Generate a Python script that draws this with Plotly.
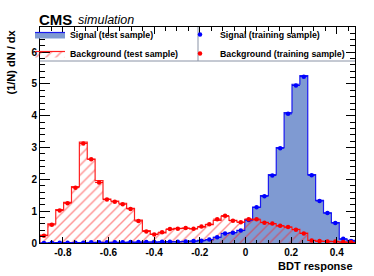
import numpy as np
import plotly.graph_objects as go

# ---- data (40 bins of BDT response) ----
x_min, x_max, n_bins = -0.90, 0.48, 40

sig_test = [0.00, 0.00, 0.01, 0.01, 0.01, 0.01, 0.01, 0.02, 0.02, 0.02,
            0.02, 0.02, 0.02, 0.03, 0.03, 0.03, 0.04, 0.04, 0.05, 0.06,
            0.08, 0.10, 0.18, 0.30, 0.33, 0.40, 0.73, 1.13, 1.49, 2.15,
            3.00, 4.10, 4.99, 5.26, 2.15, 1.34, 0.95, 0.64, 0.12, 0.08]
bkg_test = [0.25, 0.60, 1.05, 1.28, 1.77, 3.17, 2.64, 1.96, 1.38, 1.32,
            1.25, 1.09, 0.72, 0.39, 0.28, 0.32, 0.43, 0.46, 0.46, 0.44,
            0.50, 0.58, 0.71, 0.84, 0.71, 0.66, 0.74, 0.73, 0.65, 0.60,
            0.54, 0.50, 0.43, 0.31, 0.08, 0.05, 0.05, 0.04, 0.03, 0.01]
sig_train = [0.00, 0.01, 0.01, 0.01, 0.01, 0.01, 0.02, 0.02, 0.02, 0.02,
             0.02, 0.03, 0.03, 0.03, 0.03, 0.04, 0.04, 0.04, 0.05, 0.06,
             0.07, 0.11, 0.18, 0.30, 0.32, 0.39, 0.72, 1.12, 1.47, 2.12,
             2.98, 4.06, 4.95, 5.23, 2.13, 1.32, 0.94, 0.63, 0.13, 0.06]
bkg_train = [0.23, 0.57, 1.02, 1.25, 1.74, 3.13, 2.63, 1.90, 1.37, 1.30,
             1.22, 1.07, 0.69, 0.36, 0.27, 0.34, 0.44, 0.45, 0.47, 0.45,
             0.52, 0.59, 0.75, 0.86, 0.70, 0.65, 0.75, 0.75, 0.64, 0.61,
             0.54, 0.50, 0.42, 0.30, 0.08, 0.06, 0.05, 0.05, 0.03, 0.02]

x_tickvals = [-0.8, -0.6, -0.4, -0.2, 0.0, 0.2, 0.4]
x_ticktext = ["-0.8", "-0.6", "-0.4", "-0.2", "0", "0.2", "0.4"]
y_tickvals = [0, 1, 2, 3, 4, 5, 6]
y_ticktext = ["0", "1", "2", "3", "4", "5", "6"]

edges = np.linspace(x_min, x_max, n_bins + 1)
centers = 0.5 * (edges[:-1] + edges[1:])
bw = edges[1] - edges[0]

def step_xy(vals):
    xs = [edges[0]] + list(edges) + [edges[-1]]
    ys = [0.0] + list(vals) + [vals[-1], 0.0]
    return xs, ys

FONT = "Liberation Sans, Arial, Helvetica, sans-serif"

fig = go.Figure()

sx, sy = step_xy(sig_test)
fig.add_trace(go.Scatter(
    x=sx, y=sy, mode="lines", line=dict(color="#1b1bf0", width=1.2, shape="hv"),
    fill="tozeroy", fillcolor="#7f9ad2", name="Signal (test sample)",
    legend="legend"))

bx, by = step_xy(bkg_test)
fig.add_trace(go.Scatter(
    x=bx, y=by, mode="lines", line=dict(color="#ff2020", width=1.2, shape="hv"),
    fill="tozeroy", fillcolor="rgba(255,255,255,0)",
    fillpattern=dict(shape="/", fgcolor="#ff2020", bgcolor="rgba(255,255,255,0)",
                     size=7, solidity=0.2),
    name="Background (test sample)", legend="legend"))

fig.add_trace(go.Scatter(
    x=centers, y=sig_train, mode="markers",
    marker=dict(color="#0000ff", size=4.5),
    error_x=dict(type="constant", value=bw / 2, width=0, thickness=1, color="#0000ff"),
    name="Signal (training sample)", legend="legend2"))

fig.add_trace(go.Scatter(
    x=centers, y=bkg_train, mode="markers",
    marker=dict(color="#ff0000", size=4.5),
    error_x=dict(type="constant", value=bw / 2, width=0, thickness=1, color="#ff0000"),
    name="Background (training sample)", legend="legend2"))

W, H = 374, 276
L, R, T, B = 40, 19, 27, 33
pw, ph = W - L - R, H - T - B

def px_x(p):
    return (p - L) / pw

def px_y(p):
    return (H - B - p) / ph

legend_font = dict(family=FONT, size=8.8, color="black", weight="bold")

fig.update_layout(
    width=W, height=H,
    margin=dict(l=L, r=R, t=T, b=B, pad=0),
    paper_bgcolor="white", plot_bgcolor="white",
    font=dict(family=FONT, color="black"),
    showlegend=True,
    legend=dict(x=px_x(30), y=px_y(20), xanchor="left", yanchor="top",
                bgcolor="rgba(0,0,0,0)", font=legend_font,
                tracegroupgap=0, itemwidth=30),
    legend2=dict(x=px_x(180), y=px_y(20), xanchor="left", yanchor="top",
                 bgcolor="rgba(0,0,0,0)", font=legend_font,
                 tracegroupgap=0, itemwidth=30),
    xaxis=dict(range=[x_min, x_max], tickvals=x_tickvals, ticktext=x_ticktext,
               ticks="inside", ticklen=6.5, tickwidth=1, tickcolor="black",
               showline=True, linecolor="black", linewidth=1, mirror="ticks",
               showgrid=False, zeroline=False,
               tickfont=dict(family=FONT, size=10, color="black", weight="bold"),
               minor=dict(dtick=0.05, tick0=0, ticks="inside", ticklen=3.5,
                          tickcolor="black", showgrid=False)),
    yaxis=dict(range=[0, 6.79], tickvals=y_tickvals, ticktext=y_ticktext,
               ticks="inside", ticklen=9.5, tickwidth=1, tickcolor="black",
               showline=True, linecolor="black", linewidth=1, mirror="ticks",
               showgrid=False, zeroline=False,
               tickfont=dict(family=FONT, size=10, color="black", weight="bold"),
               minor=dict(dtick=0.2, tick0=0, ticks="inside", ticklen=5,
                          tickcolor="black", showgrid=False)),
    shapes=[
        dict(type="line", xref="paper", yref="paper", x0=0, x1=1,
             y0=px_y(61), y1=px_y(61), line=dict(color="#8a93a6", width=1)),
        dict(type="line", xref="paper", yref="paper", x0=px_x(198), x1=px_x(198),
             y0=px_y(61), y1=1, line=dict(color="#8a93a6", width=1)),
    ],
    annotations=[
        dict(text="<b>CMS</b>", xref="paper", yref="paper", x=px_x(37), y=px_y(19),
             xanchor="left", yanchor="middle", showarrow=False,
             font=dict(family=FONT, size=15, color="black")),
        dict(text="<i>simulation</i>", xref="paper", yref="paper", x=px_x(76), y=px_y(20),
             xanchor="left", yanchor="middle", showarrow=False,
             font=dict(family=FONT, size=12.5, color="black")),
        dict(text="<b>BDT response</b>", xref="paper", yref="paper", x=1.0, y=px_y(266),
             xanchor="right", yanchor="middle", showarrow=False,
             font=dict(family=FONT, size=11, color="black")),
        dict(text="<b>(1/N) dN / dx</b>", xref="paper", yref="paper", x=px_x(10), y=px_y(28),
             xanchor="center", yanchor="top", textangle=-90, showarrow=False,
             font=dict(family=FONT, size=11, color="black")),
    ],
)

fig.write_html("out.html",
               config={"displayModeBar": False},
               post_script="document.body.style.margin='0';document.body.style.padding='0';")
